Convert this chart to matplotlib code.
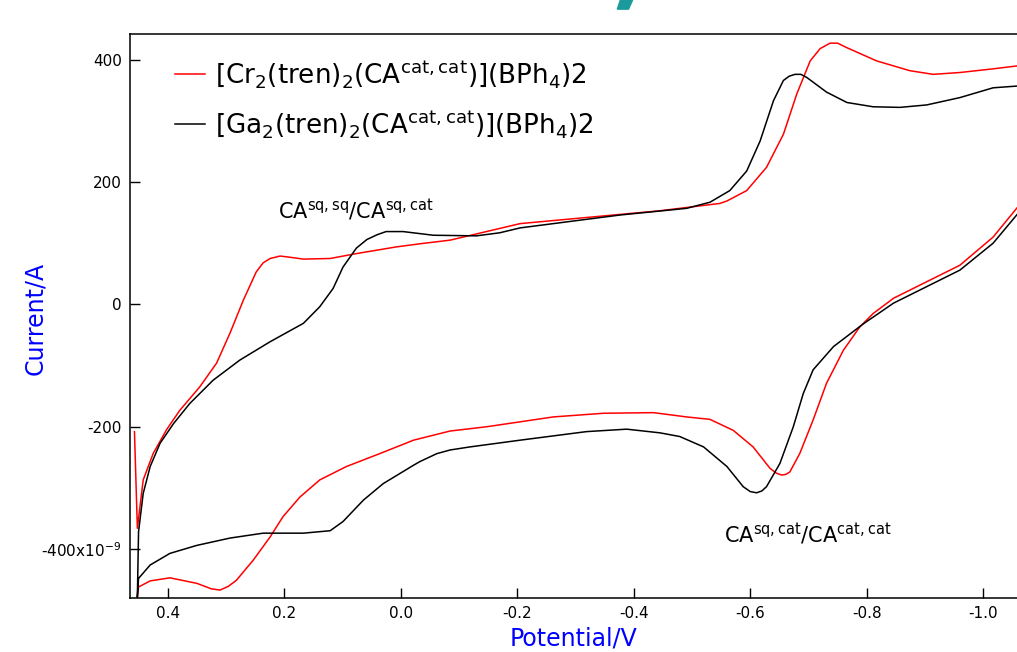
"""Cyclic voltammograms of the Cr2 and Ga2 chloranilate complexes."""
import matplotlib
matplotlib.use("Agg")
import matplotlib.pyplot as plt
from matplotlib.patches import Polygon

plt.rcParams["font.family"] = ["DejaVu Sans"]
plt.rcParams["mathtext.default"] = "regular"

# --- data (potential in V, current in nA) ---
cr_fwd_v = [0.457, 0.452, 0.442, 0.425, 0.402, 0.379, 0.345, 0.316, 0.293, 0.270,
            0.248, 0.236, 0.224, 0.207, 0.190, 0.167, 0.121, 0.076, 0.007, -0.033,
            -0.085, -0.205, -0.376, -0.445, -0.548, -0.560, -0.594, -0.628, -0.657,
            -0.680, -0.703, -0.720, -0.737, -0.750, -0.765, -0.817, -0.874, -0.914,
            -0.960, -1.017, -1.060]
cr_fwd_i = [-208, -366, -287, -244, -205, -173, -135, -96, -47, 7,
            53, 68, 75, 79, 77, 74, 75, 83, 94, 99,
            105, 132, 147, 153, 165, 169, 186, 224, 278,
            344, 398, 418, 427, 427, 420, 398, 382, 376,
            379, 385, 390]
cr_rev_v = [-1.060, -1.017, -0.960, -0.903, -0.846, -0.811, -0.788, -0.760, -0.731,
            -0.708, -0.685, -0.668, -0.661, -0.654, -0.645, -0.634, -0.605, -0.571,
            -0.531, -0.491, -0.434, -0.348, -0.262, -0.148, -0.085, -0.022,
            0.036, 0.093, 0.139, 0.173, 0.202, 0.224, 0.253, 0.282, 0.296, 0.310,
            0.325, 0.350, 0.396, 0.430, 0.450, 0.452]
cr_rev_i = [160, 110, 64, 37, 10, -15, -37, -75, -129,
            -189, -244, -274, -278, -279, -276, -268, -233, -206,
            -188, -184, -177, -178, -184, -200, -207, -222,
            -244, -265, -287, -315, -347, -380, -418, -451, -461, -467,
            -465, -456, -447, -452, -462, -478]

ga_fwd_v = [0.452, 0.450, 0.442, 0.430, 0.413, 0.390, 0.362, 0.322, 0.276, 0.224,
            0.167, 0.139, 0.116, 0.099, 0.076, 0.058, 0.040, 0.025, -0.004, -0.056,
            -0.130, -0.170, -0.205, -0.376, -0.491, -0.531, -0.565, -0.594, -0.617,
            -0.640, -0.657, -0.667, -0.677, -0.687, -0.697, -0.731, -0.766, -0.811,
            -0.857, -0.903, -0.960, -1.017, -1.060]
ga_fwd_i = [-478, -372, -309, -265, -227, -195, -162, -124, -91, -61,
            -31, -4, 26, 61, 92, 106, 114, 119, 119, 113,
            112, 117, 125, 146, 157, 167, 186, 218, 267,
            333, 366, 373, 376, 376, 371, 347, 330, 323,
            322, 326, 338, 354, 357]
ga_rev_v = [-1.060, -1.017, -0.960, -0.903, -0.846, -0.794, -0.743, -0.708, -0.691,
            -0.674, -0.651, -0.628, -0.620, -0.611, -0.600, -0.588, -0.560, -0.520,
            -0.479, -0.445, -0.388, -0.319, -0.205, -0.119, -0.085, -0.062, -0.033,
            -0.022, 0.030, 0.064, 0.099, 0.121, 0.167, 0.236, 0.293, 0.350, 0.396,
            0.430, 0.450, 0.452]
ga_rev_i = [149, 100, 56, 29, 2, -32, -69, -107, -146,
            -200, -260, -298, -305, -308, -306, -298, -265, -233,
            -216, -210, -204, -208, -222, -233, -238, -244, -257,
            -263, -293, -320, -355, -370, -374, -374, -382, -394, -407,
            -426, -448, -478]

cr_label = r"[Cr$_2$(tren)$_2$(CA$^{cat,cat}$)](BPh$_4$)2"
ga_label = r"[Ga$_2$(tren)$_2$(CA$^{cat,cat}$)](BPh$_4$)2"

x_ticks = [0.4, 0.2, 0.0, -0.2, -0.4, -0.6, -0.8, -1.0]
y_ticks = [400, 200, 0, -200, -400]
y_tick_labels = ["400", "200", "0", "-200", r"-400x10$^{-9}$"]

fig = plt.figure(figsize=(10.17, 6.52), dpi=100)
ax = fig.add_axes([0.1278, 0.0828, 0.8722, 0.8651])

ax.plot(cr_fwd_v + cr_rev_v, cr_fwd_i + cr_rev_i, color="#ff0000", lw=1.1, label=cr_label)
ax.plot(ga_fwd_v + ga_rev_v, ga_fwd_i + ga_rev_i, color="black", lw=1.1, label=ga_label)

ax.set_xlim(0.4647, -1.058)
ax.set_ylim(-480, 442)

ax.set_xticks(x_ticks)
ax.set_xticklabels([f"{t:.1f}".replace("-0.0", "0.0") for t in x_ticks])
ax.set_yticks(y_ticks)
ax.set_yticklabels(y_tick_labels)
ax.tick_params(direction="in", length=7, width=1, labelsize=11, pad=6)
ax.spines["right"].set_visible(False)
for s in ("left", "bottom", "top"):
    ax.spines[s].set_linewidth(1.1)

ax.set_xlabel("Potential/V", color="#0000ff", fontsize=17, labelpad=4)
ax.set_ylabel("Current/A", color="#0000ff", fontsize=17)
ax.yaxis.set_label_coords(-0.093, 0.496)

ax.legend(loc="upper left", bbox_to_anchor=(0.0507, 0.957), frameon=False,
          borderpad=0, borderaxespad=0, fontsize=18.8, handlelength=1.15,
          handletextpad=0.4, labelspacing=0.7)

ax.text(0.211, 140, r"CA$^{sq,sq}$/CA$^{sq,cat}$", fontsize=15, ha="left", va="baseline")
ax.text(-0.555, -389, r"CA$^{sq,cat}$/CA$^{cat,cat}$", fontsize=15, ha="left", va="baseline")

# teal fragment of a cropped heading above the frame
fig.patches.append(Polygon([(0.610, 1.0), (0.622, 1.0), (0.618, 0.986), (0.607, 0.986)],
                           closed=True, transform=fig.transFigure, color="#1a9a9a"))

fig.savefig("out.png", dpi=100)
